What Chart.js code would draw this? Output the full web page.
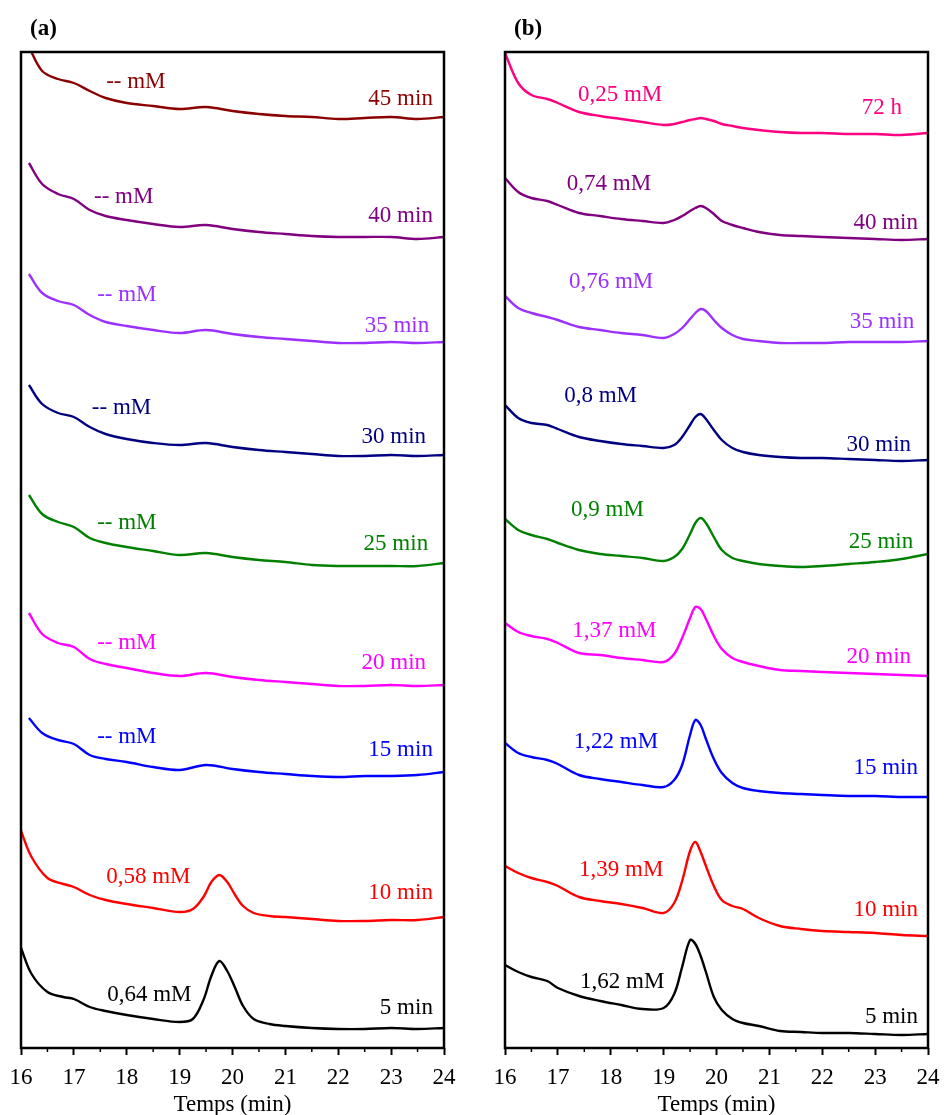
<!DOCTYPE html>
<html>
<head>
<meta charset="utf-8">
<script src="https://cdn.jsdelivr.net/npm/chart.js@4.4.1/dist/chart.umd.min.js"></script>
<style>
  body { margin: 0; background: #fff; }
  #wrap { position: relative; width: 944px; height: 1115px; }
  canvas { position: absolute; top: 0; }
  #chartA { left: 0; }
  #chartB { left: 472px; }
</style>
</head>
<body>
<div id="wrap">
  <canvas id="chartA" width="472" height="1115"></canvas>
  <canvas id="chartB" width="472" height="1115"></canvas>
</div>
<script>
// retention times (min)
var timesFlatA = [16.15, 16.4, 16.7, 17.0, 17.3, 17.6, 18.0, 18.5, 19.0, 19.5, 20.0, 20.5, 21.0, 21.5, 22.0, 22.5, 23.0, 23.5, 24.0];
var timesPeakA = [16.0, 16.2, 16.5, 16.8, 17.0, 17.3, 17.6, 18.0, 18.5, 19.0, 19.25, 19.45, 19.6, 19.75, 19.9, 20.05, 20.2, 20.4, 20.7, 21.0, 21.5, 22.0, 22.5, 23.0, 23.5, 24.0];
var timesB = [16.0, 16.25, 16.5, 16.8, 17.0, 17.4, 17.8, 18.2, 18.6, 19.0, 19.2, 19.35, 19.5, 19.6, 19.7, 19.8, 19.95, 20.1, 20.3, 20.5, 20.8, 21.2, 21.6, 22.0, 22.5, 23.0, 23.5, 24.0];

// panel (a) signals (u.a., relative to each baseline)
var a45 = [70, 46, 38, 34, 26, 19, 14, 11, 8, 10, 6, 3, 1, 0, -2, -1, 0, -2, 0];
var a40 = [74, 53, 43, 38, 27, 21, 17, 13, 10, 12, 8, 5, 3, 1, 0, 0, 0, -2, 0];
var a35 = [68, 49, 41, 37, 27, 20, 16, 12, 9, 12, 8, 5, 3, 1, -1, -1, 0, -1, 0];
var a30 = [70, 51, 42, 38, 28, 21, 16, 12, 10, 12, 8, 5, 3, 1, -1, -1, 0, -1, 0];
var a25 = [68, 49, 41, 36, 25, 20, 16, 12, 8, 10, 6, 3, 1, -2, -3, -3, -3, -3, 0];
var a20 = [72, 51, 42, 38, 26, 21, 17, 12, 9, 12, 8, 5, 3, 1, -1, -1, 0, -1, 0];
var a15 = [54, 39, 32, 28, 17, 13, 10, 5, 2, 7, 3, 0, -2, -4, -5, -4, -4, -3, 0];
var a10 = [86, 60, 39, 33, 30, 22, 17, 13, 9, 5, 8, 20, 35, 42, 35, 22, 11, 4, 1, 0, -2, -4, -4, -3, -3, 0];
var a5 = [80, 54, 36, 31, 29, 21, 17, 13, 9, 6, 9, 28, 52, 67, 57, 40, 22, 9, 4, 2, 0, -1, -1, 0, -1, 0];

// panel (b) signals
var b72h = [80, 50, 38, 34, 30, 21, 17, 14, 11, 8, 9, 11, 13, 14, 15, 14, 12, 9, 7, 5, 3, 1, 0, 0, -1, -1, -2, 0];
var b40 = [61, 47, 41, 38, 34, 26, 23, 20, 18, 16, 19, 23, 28, 31, 33, 31, 25, 18, 14, 11, 7, 4, 3, 2, 1, 0, -1, 0];
var b35 = [45, 33, 28, 24, 21, 14, 11, 8, 6, 3, 7, 13, 22, 28, 32, 30, 21, 13, 6, 2, 0, -2, -2, -2, -1, -1, -1, 0];
var b30 = [55, 42, 37, 35, 31, 23, 19, 16, 14, 12, 15, 23, 35, 43, 46, 41, 30, 20, 12, 8, 5, 3, 2, 2, 1, 0, -1, 0];
var b25 = [35, 24, 19, 15, 11, 4, 0, -2, -4, -7, -3, 5, 20, 31, 36, 31, 17, 4, -4, -7, -10, -12, -13, -12, -10, -8, -5, 0];
var b20 = [53, 44, 40, 37, 33, 23, 21, 18, 16, 14, 22, 38, 58, 69, 67, 57, 40, 27, 18, 14, 10, 6, 5, 4, 3, 2, 1, 0];
var b15 = [54, 44, 40, 37, 33, 22, 18, 15, 12, 10, 17, 32, 62, 77, 72, 58, 38, 24, 14, 9, 6, 4, 3, 2, 1, 1, 0, 0];
var b10 = [70, 63, 58, 54, 50, 39, 35, 32, 28, 23, 33, 55, 85, 94, 84, 70, 50, 36, 30, 27, 18, 10, 7, 5, 4, 3, 1, 0];
var b5 = [69, 62, 57, 53, 46, 38, 33, 29, 25, 26, 40, 67, 94, 90, 78, 62, 37, 24, 15, 11, 8, 3, 2, 1, 1, 0, -1, 0];

// stacking offsets and labels
var offsetsA = [931, 811, 706, 593, 485, 363, 276, 131, 20];
var offsetsB = [915, 809, 707, 588, 494, 372, 251, 112, 14];
var sampleTimesA = ['45 min', '40 min', '35 min', '30 min', '25 min', '20 min', '15 min', '10 min', '5 min'];
var sampleTimesB = ['72 h', '40 min', '35 min', '30 min', '25 min', '20 min', '15 min', '10 min', '5 min'];
var concA = ['-- mM', '-- mM', '-- mM', '-- mM', '-- mM', '-- mM', '-- mM', '0,58 mM', '0,64 mM'];
var concB = ['0,25 mM', '0,74 mM', '0,76 mM', '0,8 mM', '0,9 mM', '1,37 mM', '1,22 mM', '1,39 mM', '1,62 mM'];
var xTicks = [16, 17, 18, 19, 20, 21, 22, 23, 24];

var colorsA = ['#8b0000', '#800080', '#9b30ff', '#000080', '#008000', '#ff00ff', '#0000ff', '#ff0000', '#000000'];
var colorsB = ['#ff0080', '#800080', '#9b30ff', '#000080', '#008000', '#ff00ff', '#0000ff', '#ff0000', '#000000'];

// where the text labels sit (x in min, y in u.a.)
var concPosA = [[17.61, 966], [17.38, 851], [17.44, 753], [17.34, 640], [17.44, 525], [17.44, 405], [17.44, 311], [17.61, 171], [17.63, 53]];
var timePosA = [[23.79, 949], [23.79, 832], [23.72, 722], [23.66, 611], [23.70, 504], [23.66, 385], [23.79, 298], [23.79, 155], [23.79, 40]];
var concPosB = [[17.38, 953], [17.17, 864], [17.21, 766], [17.12, 652], [17.25, 538], [17.27, 417], [17.30, 306], [17.40, 178], [17.42, 66]];
var timePosB = [[23.51, 940], [23.81, 825], [23.74, 726], [23.68, 603], [23.72, 506], [23.68, 391], [23.81, 280], [23.81, 138], [23.81, 31]];

var FONT = '"Liberation Serif", "Times New Roman", serif';

function makeSet(times, signal, offset, color) {
    return {
        data: times.map(function (t, i) { return { x: t, y: offset + signal[i] }; }),
        borderColor: color,
        borderWidth: 2.4,
        pointRadius: 0,
        fill: false,
        tension: 0.35
    };
}

var framePlugin = {
    id: 'frameAndLabels',
    afterDraw: function (chart, args, opts) {
        var ctx = chart.ctx;
        var a = chart.chartArea;
        var xs = chart.scales.x;
        var ys = chart.scales.y;
        ctx.save();
        ctx.strokeStyle = '#000';
        ctx.lineWidth = 2.5;
        ctx.strokeRect(a.left, a.top, a.right - a.left, a.bottom - a.top);
        // minor ticks
        ctx.lineWidth = 1.5;
        for (var v = 16.5; v < 24; v += 1) {
            var px = xs.getPixelForValue(v);
            ctx.beginPath();
            ctx.moveTo(px, a.bottom);
            ctx.lineTo(px, a.bottom + 4);
            ctx.stroke();
        }
        ctx.font = '23px ' + FONT;
        ctx.textBaseline = 'middle';
        for (var i = 0; i < opts.conc.length; i++) {
            ctx.fillStyle = opts.colors[i];
            ctx.textAlign = 'left';
            ctx.fillText(opts.conc[i], xs.getPixelForValue(opts.concPos[i][0]), ys.getPixelForValue(opts.concPos[i][1]));
            ctx.textAlign = 'right';
            ctx.fillText(opts.times[i], xs.getPixelForValue(opts.timePos[i][0]), ys.getPixelForValue(opts.timePos[i][1]));
        }
        ctx.fillStyle = '#000';
        ctx.textAlign = 'left';
        ctx.font = 'bold 23px ' + FONT;
        ctx.fillText(opts.panel, a.left + 9, a.top - 23);
        ctx.restore();
    }
};

function buildChart(id, datasets, pad, extra) {
    var ctx = document.getElementById(id).getContext('2d');
    return new Chart(ctx, {
        type: 'line',
        data: { datasets: datasets },
        plugins: [framePlugin],
        options: {
            responsive: false,
            animation: false,
            layout: { padding: { left: pad.left, right: pad.right, top: 52, bottom: 0 } },
            plugins: {
                legend: { display: false },
                tooltip: { enabled: false },
                frameAndLabels: extra
            },
            scales: {
                x: {
                    type: 'linear',
                    min: 16,
                    max: 24,
                    afterBuildTicks: function (scale) {
                        scale.ticks = xTicks.map(function (v) { return { value: v }; });
                    },
                    afterFit: function (scale) {
                        scale.height = 67;
                        scale.paddingLeft = 0;
                        scale.paddingRight = 0;
                    },
                    grid: { drawOnChartArea: false, drawTicks: true, tickLength: 7, tickWidth: 2, tickColor: '#000' },
                    border: { display: false },
                    ticks: {
                        autoSkip: false,
                        maxRotation: 0,
                        padding: 9,
                        color: '#000',
                        font: { family: FONT, size: 23 }
                    },
                    title: {
                        display: true,
                        text: 'Temps (min)',
                        color: '#000',
                        padding: { top: 0, bottom: -4 },
                        font: { family: FONT, size: 23 }
                    }
                },
                y: {
                    display: false,
                    min: 0,
                    max: 996
                }
            }
        }
    });
}

var setsA = [
    makeSet(timesFlatA, a45, offsetsA[0], colorsA[0]),
    makeSet(timesFlatA, a40, offsetsA[1], colorsA[1]),
    makeSet(timesFlatA, a35, offsetsA[2], colorsA[2]),
    makeSet(timesFlatA, a30, offsetsA[3], colorsA[3]),
    makeSet(timesFlatA, a25, offsetsA[4], colorsA[4]),
    makeSet(timesFlatA, a20, offsetsA[5], colorsA[5]),
    makeSet(timesFlatA, a15, offsetsA[6], colorsA[6]),
    makeSet(timesPeakA, a10, offsetsA[7], colorsA[7]),
    makeSet(timesPeakA, a5, offsetsA[8], colorsA[8])
];

var seriesB = [b72h, b40, b35, b30, b25, b20, b15, b10, b5];
var setsB = seriesB.map(function (s, i) { return makeSet(timesB, s, offsetsB[i], colorsB[i]); });

buildChart('chartA', setsA, { left: 21, right: 28 }, {
    panel: '(a)', conc: concA, times: sampleTimesA, colors: colorsA, concPos: concPosA, timePos: timePosA
});
buildChart('chartB', setsB, { left: 33, right: 16 }, {
    panel: '(b)', conc: concB, times: sampleTimesB, colors: colorsB, concPos: concPosB, timePos: timePosB
});
</script>
</body>
</html>
